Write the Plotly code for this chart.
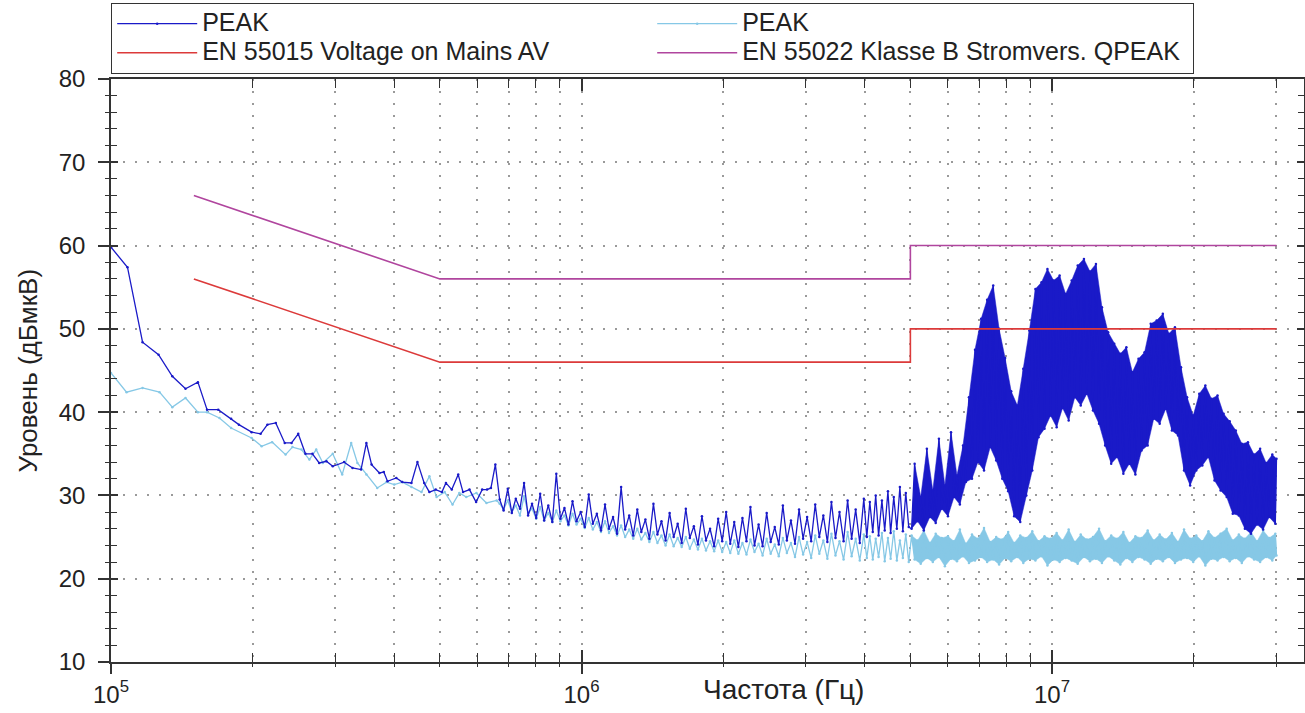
import plotly.graph_objects as go

# ---------------- data ----------------
# Low-frequency part (individual visible points)
peak_lo_khz = [100, 108.4, 116.7, 126.2, 135, 144, 153, 160, 169, 180,
               187, 199, 208, 215, 224, 234, 242, 250, 259, 268,
               277, 287, 296, 313, 326, 340, 349, 358, 372, 380,
               387, 404, 416, 435, 448, 463, 475, 490, 505, 515,
               530, 547, 560, 578, 597, 615, 630, 642, 656]
peak_lo_db = [59.8, 57.4, 48.4, 46.9, 44.3, 42.8, 43.6, 40.3, 40.3, 39.2,
              38.5, 37.6, 37.4, 38.5, 38.7, 36.3, 36.3, 37.4, 35.0, 35.0,
              33.9, 34.1, 33.5, 34.0, 33.3, 33.1, 36.3, 33.7, 32.7, 32.8,
              31.7, 32.1, 31.6, 31.5, 34.0, 31.5, 30.4, 30.7, 30.4, 31.5,
              30.7, 32.5, 30.4, 30.7, 29.2, 30.7, 30.7, 30.9, 33.7]

peak2_lo_khz = [100, 107.9, 116.7, 126.8, 135, 144, 153, 160, 170, 180,
                199, 209, 220, 235, 243, 254, 264, 273, 282, 296,
                310, 324, 334, 349, 368, 385, 400, 416, 435, 457,
                475, 492, 512, 532, 550, 569, 598, 628, 660]
peak2_lo_db = [44.7, 42.4, 42.9, 42.4, 40.6, 41.7, 40.0, 40.0, 39.3, 38.1,
               36.9, 35.9, 36.4, 34.9, 35.8, 35.5, 34.3, 35.5, 33.9, 35.0,
               32.5, 36.3, 33.9, 32.5, 30.9, 31.6, 31.3, 31.6, 31.0, 30.4,
               32.3, 29.8, 30.4, 28.9, 30.3, 29.8, 30.3, 29.1, 29.4]

# Sweep 0.67 - 5 MHz (shared frequency grid)
sweep_a_mhz = [0.67, 0.683, 0.697, 0.711, 0.725, 0.74, 0.755, 0.77, 0.785, 0.801,
               0.817, 0.833, 0.85, 0.867, 0.884, 0.902, 0.92, 0.938, 0.957, 0.976,
               0.996, 1.016, 1.036, 1.057, 1.078, 1.1, 1.122, 1.144, 1.167, 1.19,
               1.214, 1.238, 1.263, 1.288, 1.314, 1.34, 1.367, 1.394, 1.422, 1.45,
               1.479, 1.509, 1.539, 1.57, 1.601, 1.633, 1.666, 1.699, 1.733, 1.768,
               1.803, 1.839, 1.876, 1.914, 1.952, 1.991,
               2.03, 2.071, 2.112, 2.155, 2.198, 2.242, 2.286, 2.332, 2.379, 2.426,
               2.475, 2.524, 2.575, 2.626, 2.679, 2.732, 2.787, 2.843, 2.9, 2.958,
               3.017, 3.077, 3.139, 3.202, 3.266, 3.331, 3.398, 3.466, 3.535, 3.606,
               3.678, 3.751, 3.826, 3.903, 3.981,
               4.04, 4.1, 4.16, 4.22, 4.28, 4.35, 4.41, 4.48, 4.54, 4.61,
               4.68, 4.75, 4.82, 4.89, 4.96]
peak_a_db = [29.5, 28.2, 30.8, 27.9, 29.6, 28.4, 31.5, 27.6, 29.0, 27.3,
             30.2, 27.0, 28.8, 26.8, 32.6, 27.2, 28.5, 26.5, 29.3, 26.9,
             28.0, 26.2, 30.1, 26.6, 27.8, 25.8, 28.9, 26.0, 27.4, 25.4,
             31.0, 25.9, 27.6, 25.2, 28.3, 25.6, 27.1, 24.8, 29.0, 25.3,
             26.9, 24.6, 27.9, 25.0, 26.6, 24.3, 28.4, 24.9, 26.3, 24.1,
             27.5, 24.6, 26.0, 23.9, 27.2, 24.5,
             28.0, 24.2, 26.8, 23.8, 27.3, 24.5, 28.6, 24.0, 26.5, 23.9,
             27.9, 24.4, 26.2, 24.1, 28.8, 24.6, 27.0, 24.2, 28.3, 24.8,
             27.4, 24.5, 28.9, 25.0, 27.6, 24.4, 29.2, 24.9, 28.0, 24.5,
             29.4, 24.8, 28.3, 24.3, 29.6,
             25.0, 29.2, 25.6, 30.0, 25.2, 29.4, 25.8, 30.5, 25.5, 29.8,
             26.0, 31.0, 25.7, 30.3, 26.2]
peak2_a_db = [29.0, 28.3, 29.4, 28.0, 28.8, 27.6, 29.9, 27.9, 28.4, 27.2,
              28.6, 27.0, 27.9, 26.8, 28.2, 26.9, 27.6, 26.4, 27.8, 26.5,
              27.2, 26.1, 27.3, 25.9, 26.8, 25.6, 26.9, 25.5, 26.3, 25.2,
              26.4, 25.0, 25.9, 24.8, 26.0, 24.7, 25.5, 24.4, 25.6, 24.3,
              25.2, 24.0, 25.3, 23.9, 24.9, 23.8, 25.0, 23.6, 24.7, 23.5,
              24.8, 23.4, 24.5, 23.3, 24.6, 23.2,
              24.4, 23.1, 24.6, 23.0, 24.3, 22.9, 24.7, 23.2, 24.2, 22.8,
              24.8, 23.0, 24.1, 22.7, 24.9, 23.1, 24.3, 22.6, 25.0, 22.9,
              24.4, 22.5, 25.2, 23.0, 24.6, 22.4, 25.4, 22.8, 24.5, 22.3,
              25.6, 22.7, 24.8, 22.2, 25.3,
              22.5, 25.1, 22.3, 24.8, 22.6, 25.5, 22.1, 24.9, 22.4, 25.7,
              22.2, 24.6, 22.5, 25.3, 22.0]

# Sweep 5 - 30 MHz (shared frequency grid)
sweep_b_mhz = [5.03, 5.105, 5.18, 5.26, 5.34, 5.42, 5.50, 5.58, 5.66, 5.75,
               5.83, 5.92, 6.01, 6.10, 6.19, 6.28, 6.37, 6.47, 6.56, 6.66,
               6.76, 6.86, 6.96, 7.07, 7.17, 7.28, 7.39, 7.50, 7.61, 7.72,
               7.84, 7.95, 8.07, 8.19, 8.31, 8.44, 8.56, 8.69, 8.82, 8.95,
               9.08, 9.22, 9.36, 9.50, 9.64, 9.78, 9.93, 10.08, 10.23, 10.38,
               10.53, 10.69, 10.85, 11.01, 11.18, 11.34, 11.51, 11.69, 11.86, 12.04,
               12.22, 12.40, 12.59, 12.77, 12.97, 13.16, 13.36, 13.56, 13.76, 13.97,
               14.18, 14.39, 14.60, 14.82, 15.04, 15.27, 15.50, 15.73, 15.97, 16.21,
               16.45, 16.69, 16.94, 17.20, 17.45, 17.72, 17.98, 18.25, 18.53, 18.80,
               19.08, 19.37, 19.66, 19.96, 20.26, 20.56, 20.87, 21.18, 21.50, 21.82,
               22.15, 22.48, 22.82, 23.16, 23.51, 23.86, 24.22, 24.58, 24.95, 25.32,
               25.70, 26.09, 26.48, 26.88, 27.28, 27.69, 28.10, 28.52, 28.95, 29.39,
               29.83, 30.0]
peak_b_db = [26.0, 33.8, 26.9, 29.8, 25.8, 35.6, 27.4, 30.6, 26.7, 36.8,
             28.4, 31.2, 27.5, 37.6, 29.8, 32.4, 28.9, 36.0, 31.6, 41.8,
             32.0, 47.5, 34.0, 51.2, 33.0, 53.5, 35.8, 55.2, 34.2, 50.0,
             32.0, 46.5, 30.5, 42.5, 27.5, 40.8, 26.8, 45.2, 30.0, 49.8,
             33.0, 54.8, 37.0, 55.6, 38.0, 57.2, 39.6, 55.8, 38.2, 56.4,
             40.5, 54.2, 39.0, 55.8, 41.8, 57.6, 40.8, 58.4, 42.2, 56.9,
             40.2, 57.8, 38.6, 52.6, 36.0, 49.6, 33.8, 48.2, 34.6, 47.0,
             32.6, 47.8, 33.8, 44.8, 32.5, 46.4, 35.4, 47.2, 36.0, 50.6,
             39.2, 51.0, 38.6, 51.8, 40.4, 49.4, 37.8, 50.2, 37.2, 45.4,
             33.0, 41.8, 31.2, 39.6, 33.0, 42.2, 33.6, 43.2, 34.6, 41.6,
             31.8, 42.0, 30.6, 39.8, 29.8, 38.9, 27.8, 37.8, 27.6, 36.2,
             26.0, 36.4, 25.4, 34.9, 26.5, 35.6, 25.9, 33.9, 27.4, 34.9,
             26.6, 34.4]
peak2_b_db = [25.2, 22.3, 24.6, 21.8, 25.8, 22.5, 24.3, 22.0, 25.4, 22.6,
              24.9, 21.5, 25.1, 22.4, 24.5, 22.1, 25.9, 22.7, 24.2, 21.9,
              25.3, 22.2, 24.8, 22.6, 26.1, 22.0, 24.4, 22.3, 25.0, 21.7,
              24.7, 22.5, 25.6, 22.1, 24.3, 22.6, 25.2, 21.9, 24.9, 22.4,
              25.7, 22.2, 24.5, 22.7, 25.1, 21.6, 24.8, 22.3, 25.5, 22.0,
              24.6, 22.5, 25.9, 22.2, 24.4, 21.8, 25.3, 22.6, 24.7, 22.1,
              25.0, 22.4, 26.0, 21.9, 24.5, 22.7, 25.2, 22.2, 24.8, 21.7,
              25.6, 22.5, 24.3, 22.0, 25.1, 22.6, 24.9, 22.3, 25.8, 21.8,
              24.6, 22.4, 25.3, 22.1, 24.7, 22.6, 25.5, 21.9, 24.4, 22.3,
              25.9, 22.5, 24.8, 22.0, 25.2, 22.7, 24.5, 21.6, 25.7, 22.4,
              24.9, 22.2, 25.4, 22.6, 26.0, 22.1, 24.6, 22.5, 25.3, 21.9,
              24.8, 22.7, 25.6, 22.3, 24.5, 22.0, 25.8, 22.6, 24.9, 22.2,
              25.4, 22.8]

# Limit lines
limit_mhz = [0.15, 0.5, 5.0, 5.0, 30.0]
en55015_av_db = [56, 46, 46, 50, 50]
en55022_qp_db = [66, 56, 56, 60, 60]

# Legend names and axis ticks
legend_names = ["PEAK", "PEAK", "EN 55015 Voltage on Mains AV", "EN 55022 Klasse B Stromvers. QPEAK"]
x_major_hz = [1e5, 1e6, 1e7]
x_major_text = ["10<sup>5</sup>", "10<sup>6</sup>", "10<sup>7</sup>"]
x_minor_hz = [2e5, 3e5, 4e5, 5e5, 6e5, 7e5, 8e5, 9e5,
              2e6, 3e6, 4e6, 5e6, 6e6, 7e6, 8e6, 9e6,
              2e7, 3e7]

assert len(peak_lo_khz) == len(peak_lo_db)
assert len(peak2_lo_khz) == len(peak2_lo_db)
assert len(sweep_a_mhz) == len(peak_a_db) == len(peak2_a_db)
assert len(sweep_b_mhz) == len(peak_b_db) == len(peak2_b_db)

# ---------------- build traces ----------------
sweep_b_hz = [f * 1e6 for f in sweep_b_mhz]
sweep_hz = [f * 1e6 for f in sweep_a_mhz] + sweep_b_hz
peak_x = [f * 1e3 for f in peak_lo_khz] + sweep_hz
peak_y = peak_lo_db + peak_a_db + peak_b_db
peak2_x = [f * 1e3 for f in peak2_lo_khz] + sweep_hz
peak2_y = peak2_lo_db + peak2_a_db + peak2_b_db
limit_hz = [f * 1e6 for f in limit_mhz]

# dense part of the sweep: band between the upper and lower turning points
peak_band_x = sweep_b_hz[1::2] + sweep_b_hz[0::2][::-1]
peak_band_y = peak_b_db[1::2] + peak_b_db[0::2][::-1]
peak2_band_x = sweep_b_hz[0::2] + sweep_b_hz[1::2][::-1]
peak2_band_y = peak2_b_db[0::2] + peak2_b_db[1::2][::-1]

FONT = "Liberation Sans, Arial, sans-serif"
C_DARK = "#1a1ac8"
C_LIGHT = "#86c8e6"
C_RED = "#dc3a3a"
C_MAG = "#b0459e"
C_AX = "#333333"
C_GRID = "#9a9a9a"


def legend_label(s):
    return '<span style="font-size:25px">' + s + '</span>'


fig = go.Figure()
fig.add_trace(go.Scatter(x=peak2_band_x, y=peak2_band_y, mode="lines", fill="toself",
                         fillcolor=C_LIGHT, line=dict(color=C_LIGHT, width=0.5),
                         showlegend=False, hoverinfo="skip"))
fig.add_trace(go.Scatter(x=peak2_x, y=peak2_y, mode="lines+markers", name=legend_label(legend_names[1]),
                         line=dict(color=C_LIGHT, width=1.3),
                         marker=dict(size=2.5, color=C_LIGHT), legendrank=2))
fig.add_trace(go.Scatter(x=peak_band_x, y=peak_band_y, mode="lines", fill="toself",
                         fillcolor=C_DARK, line=dict(color=C_DARK, width=0.5),
                         showlegend=False, hoverinfo="skip"))
fig.add_trace(go.Scatter(x=peak_x, y=peak_y, mode="lines+markers", name=legend_label(legend_names[0]),
                         line=dict(color=C_DARK, width=1.3),
                         marker=dict(size=2.5, color=C_DARK), legendrank=1))
fig.add_trace(go.Scatter(x=limit_hz, y=en55015_av_db, mode="lines", xaxis="x2", yaxis="y2",
                         name=legend_label(legend_names[2]),
                         line=dict(color=C_RED, width=1.6), legendrank=3))
fig.add_trace(go.Scatter(x=limit_hz, y=en55022_qp_db, mode="lines", xaxis="x2", yaxis="y2",
                         name=legend_label(legend_names[3]),
                         line=dict(color=C_MAG, width=1.6), legendrank=4))

XR = [5, 7.5356]
YR = [10, 80]
grid = dict(showgrid=True, gridcolor=C_GRID, griddash="2px,10px", gridwidth=1.5)

fig.update_layout(
    width=1305, height=713,
    margin=dict(l=111, r=1, t=79, b=51, autoexpand=False),
    paper_bgcolor="white", plot_bgcolor="white",
    font=dict(family=FONT, color="#222222"),
    showlegend=True,
    xaxis=dict(type="log", range=XR, tickmode="array", tickvals=x_major_hz, ticktext=x_major_text,
               ticks="outside", ticklen=10, tickwidth=1.5, tickcolor=C_AX,
               showline=True, linecolor=C_AX, linewidth=1.5, mirror=True,
               zeroline=False, automargin=False, tickfont=dict(size=24),
               minor=dict(tickmode="array", tickvals=x_minor_hz, ticks="outside", ticklen=3,
                          tickwidth=1.2, tickcolor=C_AX, **grid),
               **grid),
    yaxis=dict(range=YR, tickmode="linear", tick0=0, dtick=10,
               ticks="outside", ticklen=11, tickwidth=1.5, tickcolor=C_AX,
               showline=True, linecolor=C_AX, linewidth=1.5, mirror=True,
               zeroline=False, automargin=False, tickfont=dict(size=24),
               ticklabelstandoff=8,
               minor=dict(dtick=2, ticks="outside", ticklen=4, tickwidth=1.2,
                          tickcolor=C_AX, showgrid=False),
               **grid),
    xaxis2=dict(type="log", range=XR, overlaying="x", side="bottom", anchor="y2",
                tickmode="array", tickvals=x_major_hz, showticklabels=False,
                ticks="inside", ticklen=12, tickwidth=1.5, tickcolor=C_AX,
                showline=True, linecolor=C_AX, linewidth=1.5, mirror="ticks",
                showgrid=False, zeroline=False, automargin=False,
                minor=dict(tickmode="array", tickvals=x_minor_hz, ticks="inside", ticklen=9,
                           tickwidth=1.2, tickcolor=C_AX, showgrid=False)),
    yaxis2=dict(range=YR, overlaying="y", side="left", anchor="x2",
                tickmode="linear", tick0=0, dtick=10, showticklabels=False,
                ticks="inside", ticklen=7, tickwidth=1.5, tickcolor=C_AX,
                showline=True, linecolor=C_AX, linewidth=1.5, mirror="ticks",
                showgrid=False, zeroline=False, automargin=False,
                minor=dict(dtick=2, ticks="inside", ticklen=6, tickwidth=1.2,
                           tickcolor=C_AX, showgrid=False)),
    legend=dict(orientation="h", x=0, xanchor="left", y=1.1304, yanchor="top",
                bgcolor="white", bordercolor=C_AX, borderwidth=1.2,
                font=dict(size=20, color="#222222", family=FONT),
                entrywidth=445, entrywidthmode="pixels", itemwidth=80,
                traceorder="normal"),
    annotations=[
        dict(text="Частота (Гц)", xref="paper", yref="paper", x=0.5633, y=-0.048,
             xanchor="center", yanchor="middle", showarrow=False,
             font=dict(size=28, color="#222222", family=FONT)),
        dict(text="Уровень (дБмкВ)", xref="paper", yref="paper", x=-0.0696, y=0.5,
             xanchor="center", yanchor="middle", textangle=-90, showarrow=False,
             font=dict(size=26, color="#222222", family=FONT)),
    ],
)

fig.write_html("out.html", config={"displayModeBar": False},
               post_script="document.body.style.margin='0px';")
